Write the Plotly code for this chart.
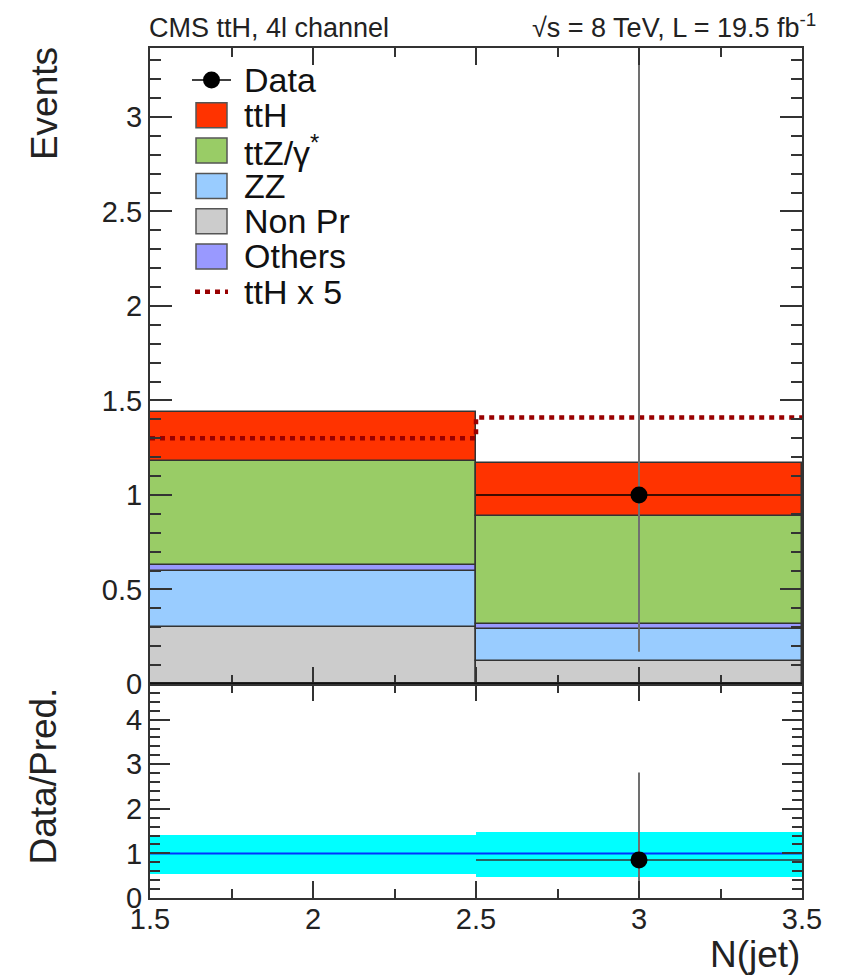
import plotly.graph_objects as go

# Binning in N(jet)
bin_centers = [2.0, 3.0]
bin_edges = [1.5, 2.5, 3.5]
bin_width = 1.0

# Expected yields per bin (stacked bottom -> top)
non_pr = [0.300, 0.122]
zz = [0.300, 0.168]
others = [0.030, 0.028]
ttz = [0.550, 0.570]
tth = [0.260, 0.282]
tth_scale = 5

# Observed data
data_x = [3.0]
data_y = [1.0]
data_err_lo = [0.83]
data_err_hi = [2.40]

# Ratio panel
ratio_y = [0.855]
ratio_err_lo = [0.855]
ratio_err_hi = [1.96]
band_lo = [0.55, 0.47]
band_hi = [1.42, 1.49]

y_tick_vals = [0, 0.5, 1, 1.5, 2, 2.5, 3]
y_tick_text = ["0", "0.5", "1", "1.5", "2", "2.5", "3"]
r_tick_vals = [0, 1, 2, 3, 4]
x_tick_vals = [1.5, 2, 2.5, 3, 3.5]

components = [
    ("Non Pr", non_pr, "#cccccc"),
    ("ZZ", zz, "#99ccff"),
    ("Others", others, "#9999ff"),
    ("ttZ/γ*", ttz, "#99cc66"),
    ("ttH", tth, "#ff3300"),
]

FONT = "Liberation Sans, Arial, Helvetica, sans-serif"
INK = "#222222"

fig = go.Figure()

# Stacked backgrounds + signal, bases accumulated per bin
base = [0.0, 0.0]
for name, vals, col in components:
    fig.add_trace(go.Bar(
        x=bin_centers, y=vals, base=list(base), width=bin_width,
        marker=dict(color=col, line=dict(color="#333333", width=1.5)),
        name=name, showlegend=False, xaxis="x", yaxis="y",
    ))
    base = [b + v for b, v in zip(base, vals)]
total = base

# ttH x 5 overlay as a step line
tth5 = [tth_scale * v for v in tth]
fig.add_trace(go.Scatter(
    x=bin_edges, y=tth5 + [tth5[-1]], mode="lines", line_shape="hv",
    line=dict(color="#990000", width=4.5, dash="5px,5px"),
    showlegend=False, xaxis="x", yaxis="y",
))

# Data points
fig.add_trace(go.Scatter(
    x=data_x, y=data_y, mode="markers",
    marker=dict(color="black", size=17),
    error_y=dict(type="data", symmetric=False, array=data_err_hi,
                 arrayminus=data_err_lo, color="#707070", thickness=2, width=0),
    error_x=dict(type="data", array=[bin_width / 2], color="black",
                 thickness=1.5, width=0),
    showlegend=False, xaxis="x", yaxis="y",
))

# Ratio panel: uncertainty band
fig.add_trace(go.Bar(
    x=bin_centers, y=[h - l for h, l in zip(band_hi, band_lo)], base=band_lo,
    width=bin_width, marker=dict(color="#00ffff", line=dict(width=0)),
    showlegend=False, xaxis="x2", yaxis="y2",
))
fig.add_trace(go.Scatter(
    x=[bin_edges[0], bin_edges[-1]], y=[1, 1], mode="lines",
    line=dict(color="#0033ff", width=2), showlegend=False,
    xaxis="x2", yaxis="y2",
))
fig.add_trace(go.Scatter(
    x=data_x, y=ratio_y, mode="markers",
    marker=dict(color="black", size=17),
    error_y=dict(type="data", symmetric=False, array=ratio_err_hi,
                 arrayminus=ratio_err_lo, color="#707070", thickness=2, width=0),
    error_x=dict(type="data", array=[bin_width / 2], color="#333333",
                 thickness=1.5, width=0),
    showlegend=False, xaxis="x2", yaxis="y2",
))

split = 0.2518
tickfont = dict(family=FONT, size=29, color=INK)
common_x = dict(range=[1.5, 3.5], tickvals=x_tick_vals, ticks="inside",
                ticklen=17, tickwidth=1.5, tickcolor="#333333",
                showline=True, linecolor="#333333", linewidth=2, mirror="allticks",
                showgrid=False, zeroline=False,
                minor=dict(dtick=0.25, ticks="inside", ticklen=9,
                           tickcolor="#333333", tickwidth=1.5, showgrid=False))

fig.update_layout(
    width=850, height=976,
    margin=dict(l=150, r=48, t=48, b=78),
    paper_bgcolor="white", plot_bgcolor="white",
    barmode="overlay", bargap=0,
    font=dict(family=FONT, color=INK),
    xaxis=dict(common_x, anchor="y", showticklabels=False),
    yaxis=dict(domain=[split, 1], range=[0, 3.365], tickvals=y_tick_vals,
               ticktext=y_tick_text,
               ticks="inside", ticklen=22, tickwidth=1.5, tickcolor="#333333",
               showline=True, linecolor="#333333", linewidth=2, mirror="allticks",
               showgrid=False, zeroline=False, tickfont=tickfont, anchor="x",
               minor=dict(dtick=0.1, ticks="inside", ticklen=11,
                          tickcolor="#333333", tickwidth=1.5, showgrid=False)),
    xaxis2=dict(common_x, anchor="y2", matches="x", showticklabels=True,
                tickfont=tickfont, ticklabelstandoff=-6),
    yaxis2=dict(domain=[0, split], range=[0, 4.8], tickvals=r_tick_vals,
                ticks="inside", ticklen=20, tickwidth=1.5, tickcolor="#333333",
                showline=True, linecolor="#333333", linewidth=2, mirror="allticks",
                showgrid=False, zeroline=False, tickfont=tickfont, anchor="x2",
                minor=dict(dtick=0.2, ticks="inside", ticklen=10,
                           tickcolor="#333333", tickwidth=1.5, showgrid=False)),
)

# Thick baseline between the two panels
fig.add_shape(type="line", xref="x", yref="y", x0=1.5, x1=3.5, y0=0, y1=0,
              line=dict(color="#111111", width=3))

# Header texts
fig.add_annotation(xref="paper", yref="paper", x=-0.004, y=1.004,
                   xanchor="left", yanchor="bottom", showarrow=False,
                   text="CMS ttH, 4l channel",
                   font=dict(family=FONT, size=27, color=INK))
fig.add_annotation(xref="paper", yref="paper", x=1.024, y=1.004,
                   xanchor="right", yanchor="bottom", showarrow=False,
                   text="√s = 8 TeV, L = 19.5 fb<sup>-1</sup>",
                   font=dict(family=FONT, size=27, color=INK))

# Axis titles
fig.add_annotation(xref="paper", yref="paper", x=-0.1626, y=1.004,
                   xanchor="center", yanchor="top", showarrow=False,
                   textangle=-90, text="Events",
                   font=dict(family=FONT, size=37, color=INK))
fig.add_annotation(xref="paper", yref="paper", x=-0.1626, y=0.2506,
                   xanchor="center", yanchor="top", showarrow=False,
                   textangle=-90, text="Data/Pred.",
                   font=dict(family=FONT, size=37, color=INK))
fig.add_annotation(xref="paper", yref="paper", x=1.0, y=-0.066,
                   xanchor="right", yanchor="middle", showarrow=False,
                   text="N(jet)",
                   font=dict(family=FONT, size=37, color=INK))

# Legend drawn in the upper panel's domain coordinates
legend_rows = [
    ("Data", "marker", "black"),
    ("ttH", "box", "#ff3300"),
    ("ttZ/γ<sup>*</sup>", "box", "#99cc66"),
    ("ZZ", "box", "#99ccff"),
    ("Non Pr", "box", "#cccccc"),
    ("Others", "box", "#9999ff"),
    ("ttH x 5", "dash", "#990000"),
]
px_w, px_h = 652, 636
row_top = 80
row_step = 35.3
for i, (label, kind, col) in enumerate(legend_rows):
    yc = row_top + i * row_step  # pixels from the top of the figure
    yd = 1 - (yc - 48) / px_h
    x_sym0 = (196 - 150) / px_w
    x_sym1 = (227 - 150) / px_w
    hh = 12.5 / px_h
    if kind == "box":
        fig.add_shape(type="rect", xref="x domain", yref="y domain",
                      x0=x_sym0, x1=x_sym1, y0=yd - hh, y1=yd + hh,
                      fillcolor=col, line=dict(color="#555555", width=1.5))
    elif kind == "marker":
        fig.add_shape(type="line", xref="x domain", yref="y domain",
                      x0=(192 - 150) / px_w, x1=(231 - 150) / px_w, y0=yd, y1=yd,
                      line=dict(color="black", width=1.5))
        fig.add_shape(type="circle", xref="x domain", yref="y domain",
                      x0=(203 - 150) / px_w, x1=(220 - 150) / px_w,
                      y0=yd - 8.5 / px_h, y1=yd + 8.5 / px_h,
                      fillcolor="black", line=dict(color="black", width=0))
    else:
        fig.add_shape(type="line", xref="x domain", yref="y domain",
                      x0=(195 - 150) / px_w, x1=(228 - 150) / px_w, y0=yd, y1=yd,
                      line=dict(color=col, width=4.5, dash="5px,5px"))
    fig.add_annotation(xref="x domain", yref="y domain",
                       x=(242 - 150) / px_w, y=yd, xanchor="left", yanchor="middle",
                       showarrow=False, text=label,
                       font=dict(family=FONT, size=34, color="#111111"))

fig.write_html("out.html")
